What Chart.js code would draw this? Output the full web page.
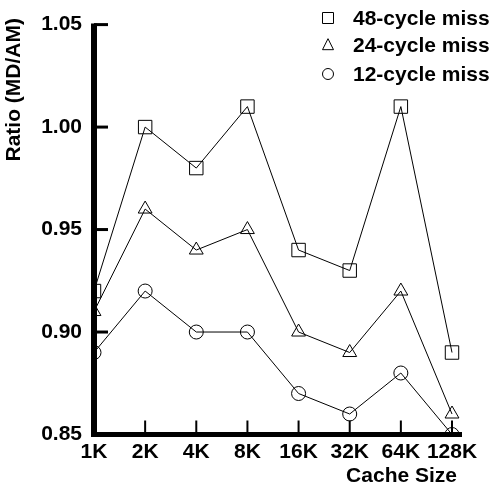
<!DOCTYPE html>
<html>
<head>
<meta charset="utf-8">
<script src="https://cdn.jsdelivr.net/npm/chart.js@4/dist/chart.umd.min.js"></script>
<style>
  html, body { margin: 0; padding: 0; background: #fff; }
  #wrap { width: 497px; height: 484px; }
</style>
</head>
<body>
<div id="wrap"><canvas id="chart"></canvas></div>
<script>
// data
const cacheSizes = ['1K', '2K', '4K', '8K', '16K', '32K', '64K', '128K'];
const miss48 = [0.92, 1.00, 0.98, 1.01, 0.94, 0.93, 1.01, 0.89];
const miss24 = [0.91, 0.96, 0.94, 0.95, 0.90, 0.89, 0.92, 0.86];
const miss12 = [0.89, 0.92, 0.90, 0.90, 0.87, 0.86, 0.88, 0.85];
const yTicks = [0.85, 0.90, 0.95, 1.00, 1.05];
const seriesLabels = ['48-cycle miss', '24-cycle miss', '12-cycle miss'];

const FONT = "'Liberation Sans', Arial, sans-serif";

function drawMarker(ctx, style, x, y, r) {
    ctx.beginPath();
    if (style === 'rect') {
        ctx.rect(x - r, y - r, 2 * r, 2 * r);
    } else if (style === 'triangle') {
        ctx.moveTo(x, y - r * 1.15);
        ctx.lineTo(x + r, y + r * 0.85);
        ctx.lineTo(x - r, y + r * 0.85);
        ctx.closePath();
    } else {
        ctx.arc(x, y, r, 0, Math.PI * 2);
    }
    ctx.stroke();
}

// axes, inward ticks, legend and titles
const decor = {
    id: 'decor',
    beforeDatasetsDraw(chart) {
        const { ctx, chartArea: a, scales: { x, y } } = chart;
        ctx.save();
        ctx.strokeStyle = '#000';
        ctx.lineWidth = 3;
        yTicks.forEach(v => {
            const py = y.getPixelForValue(v);
            ctx.beginPath();
            ctx.moveTo(a.left, py);
            ctx.lineTo(a.left + 14, py);
            ctx.stroke();
        });
        ctx.lineWidth = 2;
        cacheSizes.forEach((c, i) => {
            if (i === 0) return;
            const px = x.getPixelForValue(i);
            ctx.beginPath();
            ctx.moveTo(px, a.bottom);
            ctx.lineTo(px, a.bottom - 14);
            ctx.stroke();
        });
        ctx.lineWidth = 6;
        ctx.beginPath();
        ctx.moveTo(a.left, a.top - 1);
        ctx.lineTo(a.left, a.bottom + 2);
        ctx.stroke();
        ctx.lineWidth = 5;
        ctx.beginPath();
        ctx.moveTo(a.left - 3, a.bottom);
        ctx.lineTo(a.right + 10, a.bottom);
        ctx.stroke();
        ctx.restore();
    },
    afterDraw(chart) {
        const ctx = chart.ctx;
        ctx.save();
        ctx.fillStyle = '#000';
        ctx.strokeStyle = '#000';
        ctx.lineWidth = 1;

        // legend
        const styles = ['rect', 'triangle', 'circle'];
        const rows = [18, 45, 74];
        ctx.font = 'bold 21px ' + FONT;
        ctx.textBaseline = 'middle';
        ctx.textAlign = 'left';
        seriesLabels.forEach((lbl, i) => {
            drawMarker(ctx, styles[i], 328, rows[i], 5.5);
            ctx.fillText(lbl, 353, rows[i] + 1);
        });

        // axis titles
        ctx.textAlign = 'right';
        ctx.textBaseline = 'alphabetic';
        ctx.fillText('Cache Size', 457, 482);

        ctx.translate(14, 18);
        ctx.rotate(-Math.PI / 2);
        ctx.textAlign = 'right';
        ctx.textBaseline = 'middle';
        ctx.fillText('Ratio (MD/AM)', 0, 0);
        ctx.restore();
    }
};

const lineStyle = {
    borderColor: '#000',
    borderWidth: 1,
    pointBorderColor: '#000',
    pointBackgroundColor: 'rgba(0,0,0,0)',
    pointBorderWidth: 1,
    tension: 0,
    clip: { left: 0, top: false, right: false, bottom: 0 }
};

new Chart(document.getElementById('chart'), {
    type: 'line',
    data: {
        labels: cacheSizes,
        datasets: [
            { label: seriesLabels[0], data: miss48, pointStyle: 'rect', pointRadius: 9.5, ...lineStyle },
            { label: seriesLabels[1], data: miss24, pointStyle: 'triangle', pointRadius: 8, ...lineStyle },
            { label: seriesLabels[2], data: miss12, pointStyle: 'circle', pointRadius: 7, ...lineStyle }
        ]
    },
    options: {
        responsive: true,
        maintainAspectRatio: false,
        animation: false,
        layout: { padding: { top: 19, right: 45, left: 0, bottom: 0 } },
        plugins: {
            legend: { display: false },
            tooltip: { enabled: false }
        },
        scales: {
            x: {
                offset: false,
                grid: { display: false, drawTicks: false },
                border: { display: false },
                ticks: {
                    color: '#000',
                    font: { family: FONT, size: 21, weight: 'bold' },
                    padding: 5,
                    maxRotation: 0,
                    autoSkip: false
                },
                afterFit(scale) { scale.height = 49.5; }
            },
            y: {
                min: 0.85,
                max: 1.05,
                grid: { display: false, drawTicks: false },
                border: { display: false },
                afterBuildTicks(scale) { scale.ticks = yTicks.map(v => ({ value: v })); },
                ticks: {
                    color: '#000',
                    font: { family: FONT, size: 21, weight: 'bold' },
                    padding: 12,
                    callback: v => Number(v).toFixed(2)
                },
                afterFit(scale) { scale.width = 94; }
            }
        }
    },
    plugins: [decor]
});
</script>
</body>
</html>
